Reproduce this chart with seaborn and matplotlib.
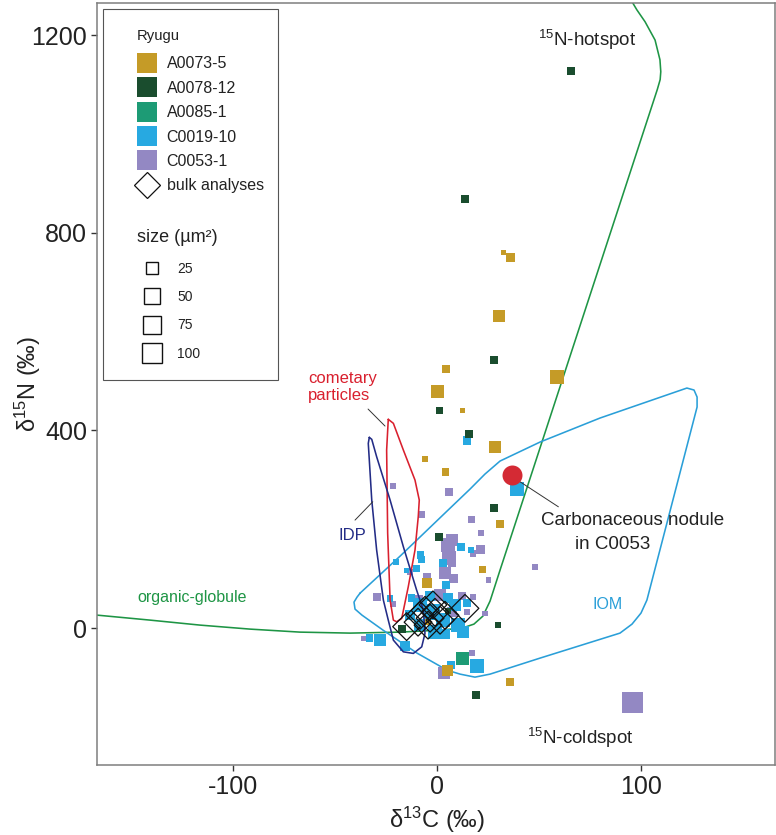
import numpy as np
import pandas as pd
import matplotlib
matplotlib.use("Agg")
import matplotlib.pyplot as plt
import seaborn as sns
from matplotlib.lines import Line2D
from matplotlib.patches import Rectangle

sns.set_style("white")
plt.rcParams["font.family"] = ["Liberation Sans", "DejaVu Sans"]
plt.rcParams["mathtext.fontset"] = "custom"
plt.rcParams["mathtext.rm"] = "Liberation Sans"
plt.rcParams["mathtext.it"] = "Liberation Sans:italic"
plt.rcParams["mathtext.bf"] = "Liberation Sans:bold"
plt.rcParams["mathtext.default"] = "regular"
plt.rcParams["axes.unicode_minus"] = False

# ---------------- data ----------------
samples = ["A0073-5", "A0078-12", "A0085-1", "C0019-10", "C0053-1"]
colors = ["#C59B27", "#1A4D2E", "#1D9B75", "#27A9E1", "#9388C3"]

a0073_x = [32.5, 36.1, 30.4, 4.4, 0.3, 12.6, 59.0, 28.3, -5.7, 4.1, 30.9, 22.2, -4.8, 5.0, 35.8, -4.3]
a0073_y = [760, 750, 632, 524, 478, 440, 509, 366, 343, 316, 210, 119, 92, -85, -109, 13]
a0073_s = [0, 12, 28, 8, 34, 0, 40, 28, 2, 5, 8, 5, 17, 22, 5, 2]

a0078_x = [65.7, 13.9, 27.9, 1.1, 15.5, 27.9, 1.1, -17.3, 5.5, 30.0, 19.1]
a0078_y = [1128, 868, 542, 440, 393, 244, 184, -1, 35, 6, -136]
a0078_s = [8, 8, 8, 5, 8, 8, 8, 8, 2, 0, 8]

a0085_x = [12.6]
a0085_y = [-61]
a0085_s = [34]

c0019_x = [14.7, 39.4, 11.6, 16.5, -20.1, -8.3, -7.5, -10.0, 3.1, 4.4, -23.0, -28.0, -33.2, -15.7, 6.7,
           19.8, 12.9, 14.6, 3.1, 3.9, -8.3, -2.5, 8.8, 10.3, -8.3, -13.2, -1.0, 5.4, -3.4, -14.9, -12.3]
c0019_y = [379, 281, 165, 158, 134, 148, 138, 121, 131, 87, 60, -24, -20, -36, -75,
           -77, -7, 50, 16, -11, 47, 32, 47, 6, 6, 26, -8, 61, 65, 117, 61]
c0019_s = [12, 40, 8, 2, 2, 5, 5, 5, 8, 8, 2, 28, 5, 17, 8,
           40, 28, 8, 40, 17, 40, 55, 28, 40, 28, 17, 40, 17, 17, 0, 5]

c0053_x = [-21.7, 5.7, -7.2, 17.0, 21.6, 5.4, 5.9, 3.9, 21.1, 17.5, 25.2, 48.0, 7.2, 8.0, 17.8,
           -13.2, -5.0, -29.6, -21.4, -35.8, 3.4, 17.0, 14.6, 23.5, 95.6, -9.3, 1.5, 12.3, 7.4, 7.4]
c0053_y = [287, 275, 230, 220, 192, 168, 142, 111, 160, 151, 97, 124, 132, 100, 63,
           114, 104, 63, 49, -21, -91, -51, 33, 30, -150, 57, 67, 65, 32, 178]
c0053_s = [2, 8, 2, 5, 0, 40, 40, 28, 12, 2, 0, 0, 8, 12, 2,
           2, 8, 8, 2, 0, 28, 2, 2, 0, 100, 17, 28, 8, 17, 28]

bulk_x = [-14.9, 13.7, -8.3, -5.9, -3.4, -1.0, 1.5, -4.4, -9.3, -2.0, 3.9]
bulk_y = [3, 40, 26, 36, 20, 32, 16, 6, 12, 47, 26]

nodule_x = [36.6]
nodule_y = [310]

size_levels = [25, 50, 75, 100]

# field outlines
green_x = [-166.7, -140.7, -116.2, -91.7, -67.2, -42.6, -18.1, 1.5, 12.3, 18.1, 22.5, 26.0, 30.9,
           108.0, 109.4, 109.7, 109.3, 106.9, 102.0, 98.0, 95.1]
green_y = [26.3, 16.2, 6.1, -2.0, -8.1, -10.1, -8.1, -4.0, 0.0, 8.1, 24.3, 54.7, 117.4,
           1090, 1110, 1126, 1150, 1190, 1227, 1251, 1271]

comet_x = [-23.9, -24.7, -24.2, -23.0, -21.4, -19.8, -17.3, -14.1, -10.8, -9.2, -8.7, -10.8, -16.5, -21.4, -23.9]
comet_y = [422.5, 360.3, 192.3, 56.7, 16.2, 12.8, 19.6, 83.6, 157.9, 225.3, 259.1, 299.6, 360.3, 414.4, 422.5]

idp_x = [-33.2, -33.7, -32.0, -29.6, -26.3, -23.9, -21.4, -16.5, -11.6, -7.5, -5.9, -6.7, -10.0, -16.5,
         -23.0, -29.6, -32.0, -33.2]
idp_y = [386.0, 373.9, 259.1, 157.9, 56.7, 16.2, -24.3, -48.0, -51.2, -37.9, -10.7, 36.4, 76.9, 164.6,
         259.1, 346.8, 382.0, 386.0]

iom_x = [-37.7, -18.1, 4.9, 16.2, 23.5, 30.9, 50.5, 79.9, 122.5, 126.0, 127.5, 127.5, 102.9, 100.0,
         95.6, 89.7, 50.5, 26.0, 18.6, 11.3, 4.9, -9.8, -26.5, -36.8, -40.2, -40.7, -39.2, -37.7]
iom_y = [70.9, 145.7, 236.8, 281.4, 311.7, 338.1, 376.5, 425.1, 485.8, 481.8, 467.6, 447.4, 56.7, 30.4,
         8.1, -10.1, -60.7, -93.1, -99.2, -93.1, -85.0, -50.6, -4.0, 26.3, 38.5, 52.6, 62.8, 70.9]

# ---------------- table ----------------
draw_order = ["C0053-1", "C0019-10", "A0085-1", "A0073-5", "A0078-12"]
series = {
    "A0073-5": (a0073_x, a0073_y, a0073_s),
    "A0078-12": (a0078_x, a0078_y, a0078_s),
    "A0085-1": (a0085_x, a0085_y, a0085_s),
    "C0019-10": (c0019_x, c0019_y, c0019_s),
    "C0053-1": (c0053_x, c0053_y, c0053_s),
}
df = pd.concat([pd.DataFrame({"d13C": series[k][0], "d15N": series[k][1], "area": series[k][2], "sample": k})
                for k in draw_order], ignore_index=True)
palette = dict(zip(samples, colors))

S_MIN, S_MAX = 15.55, 228.1

fig = plt.figure(figsize=(7.76, 8.35), dpi=100)
ax = fig.add_axes([97 / 776, 1 - 765 / 835, 678 / 776, 762 / 835])

GREEN = "#1E9545"
RED = "#D9202E"
NAVY = "#232C86"
BLUE = "#2A9FD8"
lw = 1.15
sns.lineplot(x=green_x, y=green_y, sort=False, estimator=None, color=GREEN, lw=lw, ax=ax, zorder=2)
sns.lineplot(x=iom_x, y=iom_y, sort=False, estimator=None, color=BLUE, lw=lw, ax=ax, zorder=2)

sns.scatterplot(data=df, x="d13C", y="d15N", hue="sample", size="area", palette=palette,
                sizes=(S_MIN, S_MAX), size_norm=(0, 100), marker="s", linewidth=0,
                legend=False, ax=ax, zorder=3)

sns.lineplot(x=comet_x, y=comet_y, sort=False, estimator=None, color=RED, lw=lw, ax=ax, zorder=4)
sns.lineplot(x=idp_x, y=idp_y, sort=False, estimator=None, color=NAVY, lw=lw, ax=ax, zorder=4)

ax.scatter(bulk_x, bulk_y, marker="D", s=200, facecolors="none", edgecolors="#111111",
           linewidths=0.9, zorder=5)
ax.scatter(nodule_x, nodule_y, marker="o", s=207, color="#D42A34", linewidths=0, zorder=5)

# annotations
ax.text(73.5, 1190, "$^{15}$N-hotspot", fontsize=13.5, ha="center", va="center", color="#222222")
ax.text(70.1, -223, "$^{15}$N-coldspot", fontsize=13.5, ha="center", va="center", color="#222222")
ax.text(-120, 61, "organic-globule", fontsize=11.5, ha="center", va="center", color=GREEN)
ax.text(-41.7, 188, "IDP", fontsize=12, ha="center", va="center", color=NAVY)
ax.text(-63.2, 488, "cometary\nparticles", fontsize=12, ha="left", va="center", color=RED,
        linespacing=1.1)
ax.text(83.8, 48.6, "IOM", fontsize=11.5, ha="center", va="center", color=BLUE)
ax.text(96.1, 218.6, "Carbonaceous nodule", fontsize=13.5, ha="center", va="center", color="#222222")
ax.text(86.3, 170, "in C0053", fontsize=13.5, ha="center", va="center", color="#222222")
ax.plot([-33.8, -25.5], [443.3, 408.9], color="#333333", lw=0.7, zorder=4)
ax.plot([-40.2, -31.5], [218.6, 255.7], color="#333333", lw=0.7, zorder=4)
ax.plot([40.7, 59.5], [296.2, 245.5], color="#333333", lw=0.7, zorder=4)

# axes styling
ax.set_xlim(-166.7, 165.7)
ax.set_ylim(-277, 1265)
ax.set_xticks([-100, 0, 100])
ax.set_yticks([0, 400, 800, 1200])
ax.tick_params(axis="both", direction="out", length=4, width=1, color="#333333",
               labelsize=18, labelcolor="#222222", pad=3, bottom=True, left=True)
for sp in ax.spines.values():
    sp.set_color("#7f7f7f")
    sp.set_linewidth(1.1)
ax.set_xlabel("δ$^{13}$C (‰)", fontsize=17, color="#222222")
ax.set_ylabel("δ$^{15}$N (‰)", fontsize=17, color="#222222")
ax.xaxis.set_label_coords((437 - 97) / 678, (765 - 820) / 762)
ax.yaxis.set_label_coords((28 - 97) / 678, (765 - 384) / 762)
ax.xaxis.label.set_va("center")
ax.yaxis.label.set_va("center")

# legend box
box = Rectangle(((103 - 97) / 678, (765 - 380) / 762), (278 - 103) / 678, (380 - 9) / 762,
                transform=ax.transAxes, facecolor="white", edgecolor="#555555", lw=0.8, zorder=6)
ax.add_patch(box)

h1 = [Line2D([], [], ls="", marker="s", markersize=14.4, markerfacecolor=c, markeredgewidth=0)
      for c in colors]
h1.append(Line2D([], [], ls="", marker="D", markersize=13.7, markerfacecolor="none",
                 markeredgecolor="#111111", markeredgewidth=0.9))
leg1 = ax.legend(h1, samples + ["bulk analyses"], title="Ryugu", loc="upper left",
                 bbox_to_anchor=((137 - 97) / 678, (765 - 29) / 762), borderaxespad=0, borderpad=0,
                 frameon=False, fontsize=11.5, title_fontsize=10.7, handlelength=1.25, handletextpad=0.6,
                 labelspacing=0.59, alignment="left")
leg1._legend_box.sep = 9.6
leg1.set_zorder(7)
ax.add_artist(leg1)

h2 = [Line2D([], [], ls="", marker="s", markersize=np.sqrt(S_MIN + (S_MAX - S_MIN) * v / 100),
             markerfacecolor="white", markeredgecolor="#111111", markeredgewidth=1.0)
      for v in size_levels]
leg2 = ax.legend(h2, [str(v) for v in size_levels], title="size (µm²)", loc="upper left",
                 bbox_to_anchor=((137 - 97) / 678, (765 - 229) / 762), borderaxespad=0, borderpad=0,
                 frameon=False, fontsize=10, title_fontsize=13, handlelength=2.16, handletextpad=0.72,
                 labelspacing=1.04, alignment="left")
leg2._legend_box.sep = 11.2
leg2.set_zorder(7)
for lg in (leg1, leg2):
    for t in lg.get_texts():
        t.set_color("#222222")
    lg.get_title().set_color("#222222")

fig.savefig("out.png", dpi=100)
